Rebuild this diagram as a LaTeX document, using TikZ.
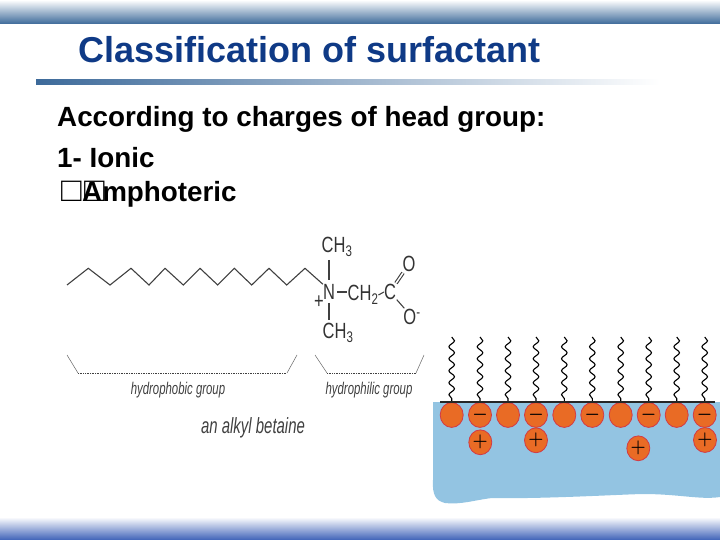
\documentclass[tikz,border=0pt]{standalone}
\usepackage{fontspec}
\setmainfont{Liberation Sans}
\usetikzlibrary{decorations.pathmorphing}
\definecolor{slatebar}{HTML}{3D6A9A}
\definecolor{bluebar}{HTML}{3F62B8}
\definecolor{titleblue}{HTML}{0F3A86}
\definecolor{water}{HTML}{93C4E2}
\definecolor{headfill}{HTML}{E96B25}
\definecolor{headedge}{HTML}{D23A45}
\tikzset{
	titletext/.style={text=titleblue,font=\fontsize{36}{36}\selectfont\bfseries,anchor=base west,inner sep=0pt},
	bodytext/.style={font=\fontsize{27.8}{28}\selectfont\bfseries,anchor=base west,inner sep=0pt},
	tofu/.style={font=\fontsize{34}{34}\selectfont,anchor=base west,inner sep=0pt},
	chem/.style={font=\fontsize{22}{22}\selectfont,xscale=0.75,inner sep=0pt,text=black!80},
	grouplabel/.style={font=\fontsize{17}{17}\selectfont\itshape,xscale=0.67,inner sep=0pt,text=black!75},
	bigname/.style={font=\fontsize{22}{22}\selectfont\itshape,xscale=0.68,inner sep=0pt,text=black!75},
	head/.style={circle,draw=headedge,fill=headfill,line width=0.8pt,minimum width=23pt,minimum height=23pt,inner sep=0pt,yscale=1.08,font=\fontsize{17}{17}\selectfont\boldmath},
	tail/.style={decorate,decoration={snake,segment length=12pt,amplitude=2.8pt},line width=1.1pt},
	bond/.style={line width=1.1pt,black!75},
	slant/.style={line width=0.5pt,black!60},
	dotline/.style={line width=0.7pt,densely dotted,black!75}
}
\begin{document}
\begin{tikzpicture}[x=1pt,y=-1pt]
	\useasboundingbox (0,0) rectangle (720,540);
	\shade[top color=white,bottom color=slatebar] (0,0) rectangle (720,24);
	\shade[top color=white,bottom color=bluebar] (0,517) rectangle (720,540);
	\shade[left color=slatebar,right color=white] (36,80) rectangle (660,85);
	\node[titletext] at (78,63) (title) {Classification of surfactant};
	\node[bodytext] at (57,127) (crit) {According to charges of head group:};
	\node[bodytext] at (57,168) (ionic) {1- Ionic};
	\node[tofu] at (61,201.5) (boxa) {□};
	\node[tofu] at (84,201.5) (boxb) {□};
	\node[bodytext] at (82,202) (amph) {Amphoteric};

	\fill[water] (433,402) -- (720,402) -- (720,497) .. controls (700,500) and (680,494) .. (642,494) .. controls (610,495) and (540,499) .. (492,498) .. controls (475,500) and (460,505) .. (445,503) .. controls (436,501) and (432,495) .. (433,480) -- cycle;

	\node[head] at (451.7,415) (h1) {};
	\node[head] at (480,415) (h2) {$-$};
	\node[head] at (508,415) (h3) {};
	\node[head] at (536,415) (h4) {$-$};
	\node[head] at (564.3,415) (h5) {};
	\node[head] at (592.3,415) (h6) {$-$};
	\node[head] at (620.7,415) (h7) {};
	\node[head] at (648.7,415) (h8) {$-$};
	\node[head] at (676.7,415) (h9) {};
	\node[head] at (704.7,415) (h10) {$-$};
	\node[head] at (480.3,442.3) (p1) {$+$};
	\node[head] at (536,440.3) (p2) {$+$};
	\node[head] at (638.3,448.3) (p3) {$+$};
	\node[head] at (705,440) (p4) {$+$};

	\coordinate (t1) at (451.7,337);
	\coordinate (t2) at (480,337);
	\coordinate (t3) at (508,337);
	\coordinate (t4) at (536,337);
	\coordinate (t5) at (564.3,337);
	\coordinate (t6) at (592.3,337);
	\coordinate (t7) at (620.7,337);
	\coordinate (t8) at (648.7,337);
	\coordinate (t9) at (676.7,337);
	\coordinate (t10) at (704.7,337);
	\path[draw] (t1) edge[tail] (h1.north)
	(t2) edge[tail] (h2.north)
	(t3) edge[tail] (h3.north)
	(t4) edge[tail] (h4.north)
	(t5) edge[tail] (h5.north)
	(t6) edge[tail] (h6.north)
	(t7) edge[tail] (h7.north)
	(t8) edge[tail] (h8.north)
	(t9) edge[tail] (h9.north)
	(t10) edge[tail] (h10.north);
	\coordinate (surfl) at (440,402);
	\coordinate (surfr) at (715,402);
	\draw[line width=1.3pt,black!85] (surfl) -- (surfr);

	\node[chem] at (337,247) (ch3a) {CH\textsubscript{3}};
	\node[chem] at (329,292) (n) {N};
	\node[chem] at (319,302) (plus) {+};
	\node[chem] at (363,295) (ch2) {CH\textsubscript{2}};
	\node[chem] at (390,292) (c) {C};
	\node[chem] at (409,264) (otop) {O};
	\node[chem] at (412,317) (omin) {O\textsuperscript{-}};
	\node[chem] at (338,333) (ch3b) {CH\textsubscript{3}};
	\draw[bond] (67,285) -- (88.3,268.3) -- (110,285) -- (131,268.3) -- (149,285) -- (165,268.3) -- (183.3,285) -- (200,268.3) -- (217.7,285) -- (234.3,268.3) -- (251.7,285) -- (269,268.3) -- (286.7,285) -- (305,268.3) -- (n.north west);
	\path[bond] (ch3a.south -| n.north) edge[shorten >=4pt,shorten <=3pt] (n.north)
	(n.south) edge[shorten <=3pt,shorten >=3pt] (ch3b.north -| n.south)
	(n.east) edge[shorten <=2pt,shorten >=1pt] (ch2.west |- n.east)
	(ch2.east) edge (c.west)
	(c) edge[shorten <=1pt,shorten >=1pt] (omin);
	\draw[bond,double,double distance=1.5pt,shorten <=1pt,shorten >=1pt] (c) -- (otop);

	\coordinate (la) at (67,355);
	\coordinate (lb) at (78,373);
	\coordinate (lc) at (287,373);
	\coordinate (ld) at (297,355);
	\coordinate (ra) at (315,355);
	\coordinate (rb) at (327,373);
	\coordinate (rc) at (416,373);
	\coordinate (rd) at (424,355);
	\path[slant] (la) edge (lb)
	(lc) edge (ld)
	(ra) edge (rb)
	(rc) edge (rd);
	\path[dotline] (lb) edge (lc)
	(rb) edge (rc);
	\node[grouplabel] at (178,390) (phob) {hydrophobic group};
	\node[grouplabel] at (369,390) (phil) {hydrophilic group};
	\node[bigname] at (253,428) (name) {an alkyl betaine};
\end{tikzpicture}
\end{document}
